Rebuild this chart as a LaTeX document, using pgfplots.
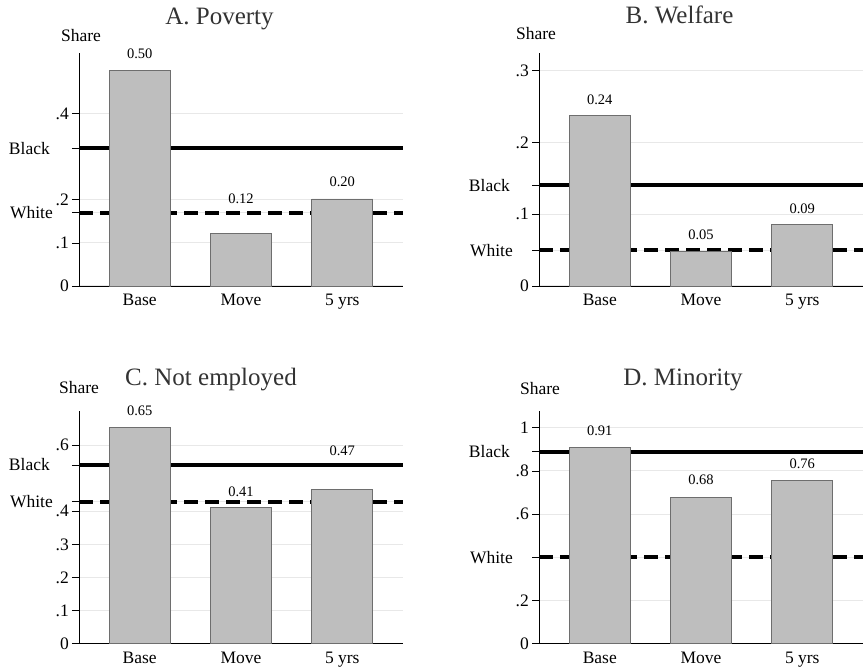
\documentclass[border=0pt]{standalone}
\usepackage{pgfplots}
\usepackage{pgfplotstable}
\pgfplotsset{compat=1.18}
\usepackage{fontspec}
\setmainfont{Liberation Serif}
\definecolor{barfill}{HTML}{BEBEBE}
\definecolor{baredge}{HTML}{6E6E6E}
\definecolor{gridc}{HTML}{E8E8E8}
\definecolor{titlec}{HTML}{333333}
\newcommand\tickf{\fontsize{17.5bp}{20bp}\selectfont}
\newcommand\labf{\fontsize{14.5bp}{17bp}\selectfont}
\newcommand\titf{\fontsize{25bp}{30bp}\selectfont}

\pgfplotstableread{
x y ly lab
1 0.500 0.539 0.50
2 0.121 0.202 0.12
3 0.202 0.241 0.20
}\dataA
\pgfplotstableread{
x y ly lab
1 0.237 0.260 0.24
2 0.048 0.0707 0.05
3 0.0855 0.1078 0.09
}\dataB
\pgfplotstableread{
x y ly lab
1 0.652 0.703 0.65
2 0.412 0.459 0.41
3 0.467 0.582 0.47
}\dataC
\pgfplotstableread{
x y ly lab
1 0.909 0.986 0.91
2 0.679 0.758 0.68
3 0.756 0.832 0.76
}\dataD

\pgfplotsset{panel/.style={
  scale only axis, width=324bp, height=233bp,
  xmin=0.4, xmax=3.6, ymin=0,
  axis x line*=bottom, axis y line*=left,
  xtick={1,2,3}, xticklabels={Base,Move,5 yrs},
  major x tick style={draw=none},
  tick align=outside, major tick length=7bp,
  ymajorgrids, major grid style={gridc, line width=1bp},
  every y tick/.style={black, line width=0.8bp},
  axis line style={black, line width=0.8bp},
  tick label style={font=\tickf},
  yticklabel style={anchor=east, inner sep=0pt, xshift=-3bp},
  xticklabel style={anchor=base, inner sep=0pt, yshift=-13bp},
  clip=false,
}}
\pgfplotsset{
  blk/.style={black, line width=4bp},
  wht/.style={black, line width=4bp, dash pattern=on 14bp off 7bp},
  bars/.style={ybar, bar width=61bp, fill=barfill, draw=baredge, line width=0.8bp},
  labs/.style={only marks, mark=*, mark size=0pt, mark options={draw=none, fill=none},
    nodes near coords, point meta=explicit symbolic,
    every node near coord/.append style={font=\labf, anchor=center, inner sep=0pt, text=black}},
}

\begin{document}
\begin{tikzpicture}[x=1bp,y=1bp]
\path[use as bounding box] (0,0) rectangle (863,668);

% Panel A
\begin{axis}[panel, at={(79bp,382bp)}, anchor=south west, ymax=0.541,
  ytick={0,0.1,0.2,0.4,0.32,0.17},
  yticklabels={0,.1,.2,.4,{Black\hspace*{19bp}},{White\hspace*{16bp}}}]
\addplot[blk] coordinates {(0.4,0.32) (3.6,0.32)};
\addplot[wht] coordinates {(0.4,0.17) (3.6,0.17)};
\addplot[bars] table[x=x,y=y]{\dataA};
\addplot[labs] table[x=x,y=ly,meta=lab]{\dataA};
\end{axis}

% Panel B
\begin{axis}[panel, at={(539bp,382bp)}, anchor=south west, ymax=0.3245,
  ytick={0,0.1,0.2,0.3,0.14,0.05},
  yticklabels={0,.1,.2,.3,{Black\hspace*{19bp}},{White\hspace*{16bp}}}]
\addplot[blk] coordinates {(0.4,0.14) (3.6,0.14)};
\addplot[wht] coordinates {(0.4,0.05) (3.6,0.05)};
\addplot[bars] table[x=x,y=y]{\dataB};
\addplot[labs] table[x=x,y=ly,meta=lab]{\dataB};
\end{axis}

% Panel C
\begin{axis}[panel, at={(79bp,24.3bp)}, anchor=south west, ymax=0.704,
  ytick={0,0.1,0.2,0.3,0.4,0.6,0.54,0.429},
  yticklabels={0,.1,.2,.3,.4,.6,{Black\hspace*{19bp}},{White\hspace*{16bp}}}]
\addplot[blk] coordinates {(0.4,0.54) (3.6,0.54)};
\addplot[wht] coordinates {(0.4,0.429) (3.6,0.429)};
\addplot[bars] table[x=x,y=y]{\dataC};
\addplot[labs] table[x=x,y=ly,meta=lab]{\dataC};
\end{axis}

% Panel D
\begin{axis}[panel, at={(539bp,24.3bp)}, anchor=south west, ymax=1.079,
  ytick={0,0.2,0.6,0.8,1,0.89,0.40},
  yticklabels={0,.2,.6,.8,1,{Black\hspace*{19bp}},{White\hspace*{16bp}}}]
\addplot[blk] coordinates {(0.4,0.89) (3.6,0.89)};
\addplot[wht] coordinates {(0.4,0.40) (3.6,0.40)};
\addplot[bars] table[x=x,y=y]{\dataD};
\addplot[labs] table[x=x,y=ly,meta=lab]{\dataD};
\end{axis}

% Titles and axis titles
\node[font=\titf, text=titlec, anchor=base] at (219.5,643) {A. Poverty};
\node[font=\titf, text=titlec, anchor=base] at (679.5,644) {B. Welfare};
\node[font=\titf, text=titlec, anchor=base] at (211,282.3) {C. Not employed};
\node[font=\titf, text=titlec, anchor=base] at (683,282.3) {D. Minority};
\node[font=\tickf, anchor=base] at (81,626.3) {Share};
\node[font=\tickf, anchor=base] at (536,628) {Share};
\node[font=\tickf, anchor=base] at (79,274.7) {Share};
\node[font=\tickf, anchor=base] at (540,273) {Share};
\end{tikzpicture}
\end{document}
